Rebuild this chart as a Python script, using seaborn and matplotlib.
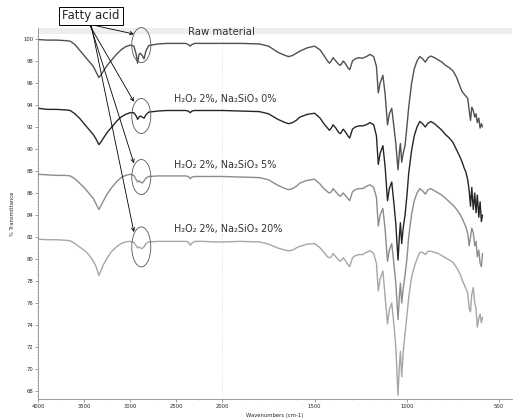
import numpy as np
import pandas as pd
import matplotlib
matplotlib.use("Agg")
import matplotlib.pyplot as plt
from matplotlib.patches import Ellipse
from matplotlib.transforms import IdentityTransform
from matplotlib.ticker import FixedLocator
import seaborn as sns

# wavenumbers (cm-1), compressed part of the axis (4000-2000)
WN_HIGH = [4000, 3900, 3800, 3700, 3650, 3600, 3550, 3500, 3450, 3400,
           3370, 3340, 3320, 3290, 3250, 3200, 3150, 3100, 3050, 3000,
           2960, 2935, 2920, 2905, 2890, 2870, 2850, 2830, 2800, 2700,
           2600, 2500, 2400, 2370, 2350, 2330, 2300, 2200, 2100, 2000]
# fingerprint part (below 2000)
WN_LOW = [1900, 1800, 1750, 1700, 1660, 1640, 1620, 1600, 1580, 1540,
          1500, 1470, 1450, 1430, 1420, 1410, 1400, 1385, 1370, 1360,
          1345, 1335, 1320, 1310, 1295, 1280, 1260, 1240, 1220, 1200,
          1180, 1165, 1155, 1145, 1130, 1118, 1105, 1095, 1082, 1070,
          1060, 1048, 1040, 1035, 1028, 1020, 1010, 1000, 990, 975,
          960, 945, 930, 915, 900, 885, 870, 850, 830, 810,
          790, 770, 750, 730, 710, 700, 690, 680, 670, 662,
          655, 648, 640, 632, 625, 618, 610, 603, 596, 590]

RAW_HIGH = [99.95, 99.9, 99.9, 99.85, 99.8, 99.5, 99.0, 98.5, 98.0, 97.5,
            97.0, 96.5, 96.7, 97.1, 97.6, 98.1, 98.6, 99.0, 99.3, 99.45,
            99.35, 98.6, 97.8, 98.6, 98.7, 98.5, 98.2, 98.9, 99.4, 99.55,
            99.6, 99.6, 99.6, 99.5, 99.35, 99.5, 99.6, 99.6, 99.6, 99.6]
RAW_LOW = [99.6, 99.55, 99.35, 98.8, 98.5, 98.4, 98.5, 98.7, 98.9, 99.2,
           99.35, 99.0, 98.5, 98.0, 97.8, 98.0, 98.3, 98.0, 97.7, 97.6,
           98.0, 97.8, 97.4, 97.2, 98.0, 98.2, 98.3, 98.25, 98.4, 98.6,
           98.4, 97.5, 95.1, 96.0, 96.7, 95.0, 92.2, 93.2, 93.7, 92.0,
           90.5, 88.1, 89.8, 90.5, 88.8, 89.6, 90.3, 92.0, 93.8, 95.9,
           97.3, 98.0, 98.4, 98.2, 97.9, 98.3, 98.45, 98.3, 98.1, 97.9,
           97.6, 97.4, 97.1, 96.5, 95.6, 95.2, 95.0, 94.8, 94.6, 93.5,
           92.6, 93.8, 93.5, 92.9, 93.2, 92.4, 92.8, 91.9, 92.3, 92.0]

NA0_HIGH = [93.7, 93.6, 93.6, 93.55, 93.5, 93.2, 92.8, 92.3, 91.8, 91.3,
            90.9, 90.4, 90.6, 91.0, 91.5, 92.0, 92.5, 92.9, 93.15, 93.3,
            93.3, 93.0, 92.7, 92.9, 93.0, 92.9, 92.8, 93.1, 93.35, 93.45,
            93.5, 93.5, 93.5, 93.45, 93.3, 93.45, 93.5, 93.5, 93.5, 93.5]
NA0_LOW = [93.45, 93.4, 93.2, 92.7, 92.4, 92.3, 92.4, 92.6, 92.9, 93.15,
           93.25, 92.8, 92.3, 91.9, 91.7, 91.9, 92.2, 91.9, 91.5, 91.4,
           91.8, 91.6, 91.2, 91.0, 91.8, 92.0, 92.1, 92.1, 92.2, 92.4,
           92.2, 91.2, 88.6, 89.6, 90.3, 88.4, 85.3, 86.4, 87.0, 85.0,
           83.2, 79.9, 82.2, 83.3, 81.4, 82.8, 84.0, 85.7, 87.8, 89.8,
           91.2, 92.0, 92.5, 92.3, 92.0, 92.35, 92.5, 92.3, 92.0, 91.7,
           91.3, 91.0, 90.6, 89.9, 89.2, 88.8, 88.3, 87.9, 87.2, 86.2,
           84.8, 86.5, 84.5, 86.0, 84.2, 85.8, 83.8, 85.2, 83.4, 84.0]

NA5_HIGH = [87.7, 87.65, 87.6, 87.6, 87.55, 87.3, 86.9, 86.5, 86.0, 85.5,
            85.0, 84.5, 84.8, 85.3, 85.9, 86.5, 87.0, 87.4, 87.6, 87.7,
            87.6, 87.2, 87.0, 87.1, 87.0, 86.9, 87.1, 87.35, 87.5, 87.55,
            87.55, 87.55, 87.55, 87.5, 87.3, 87.45, 87.5, 87.5, 87.5, 87.5]
NA5_LOW = [87.45, 87.4, 87.2, 86.7, 86.4, 86.3, 86.4, 86.6, 86.9, 87.15,
           87.25, 86.8, 86.4, 86.1, 86.0, 86.1, 86.4, 86.1, 85.8, 85.7,
           86.0, 85.8, 85.5, 85.3, 86.1, 86.3, 86.4, 86.4, 86.6, 86.75,
           86.5, 85.6, 83.0, 84.0, 84.6, 82.7, 79.8, 80.8, 81.4, 79.5,
           77.8, 74.5, 76.8, 77.8, 76.0, 77.3, 78.5, 80.0, 82.0, 84.0,
           85.3, 86.0, 86.4, 86.2, 85.9, 86.3, 86.4, 86.2, 86.0, 85.8,
           85.5, 85.2, 84.9, 84.5, 84.0, 83.7, 83.3, 82.9, 82.3, 81.2,
           82.0, 82.8, 82.4, 81.2, 81.6, 80.2, 80.8, 79.6, 79.3, 80.5]

NA20_HIGH = [81.8, 81.75, 81.75, 81.7, 81.65, 81.4, 81.1, 80.8, 80.4, 79.8,
             79.3, 78.5, 78.9, 79.5, 80.1, 80.7, 81.1, 81.4, 81.55, 81.6,
             81.5, 81.2, 81.0, 81.1, 81.0, 80.95, 81.1, 81.4, 81.55, 81.6,
             81.6, 81.6, 81.6, 81.55, 81.25, 81.45, 81.6, 81.6, 81.55, 81.55]
NA20_LOW = [81.6, 81.55, 81.35, 81.0, 80.8, 80.75, 80.8, 81.0, 81.15, 81.35,
            81.4, 81.0, 80.6, 80.2, 80.1, 80.2, 80.5, 80.2, 79.9, 79.8,
            80.1, 79.9, 79.5, 79.3, 80.1, 80.3, 80.4, 80.4, 80.6, 80.75,
            80.5, 79.6, 77.1, 78.2, 78.9, 76.6, 74.1, 75.4, 76.0, 74.0,
            72.0, 67.6, 70.5, 71.6, 69.3, 71.5, 73.2, 74.8, 76.5, 78.3,
            79.3, 80.0, 80.6, 80.6, 80.4, 80.7, 80.7, 80.6, 80.5, 80.3,
            80.1, 79.9, 79.7, 79.2, 78.6, 78.1, 77.7, 77.3, 76.9, 75.5,
            75.2, 76.8, 77.4, 76.0, 75.5, 73.8, 74.6, 75.0, 74.2, 74.7]

SAMPLES = ["Raw material", "H₂O₂ 2%, Na₂SiO₃ 0%",
           "H₂O₂ 2%, Na₂SiO₃ 5%", "H₂O₂ 2%, Na₂SiO₃ 20%"]
COLORS = ["#505050", "#262626", "#8c8c8c", "#a6a6a6"]
SERIES = [RAW_HIGH + RAW_LOW, NA0_HIGH + NA0_LOW,
          NA5_HIGH + NA5_LOW, NA20_HIGH + NA20_LOW]
# where the fatty-acid circles sit (transmittance at ~2880 cm-1)
CIRCLE_T = [99.45, 93.0, 87.45, 81.1]
ARROW_T = [100.45, 94.3, 88.7, 82.45]
LABEL_T = [100.6, 94.55, 88.55, 82.7]

wn = WN_HIGH + WN_LOW
df = pd.concat([pd.DataFrame({"wavenumber": wn, "transmittance": vals, "sample": name})
                for name, vals in zip(SAMPLES, SERIES)], ignore_index=True)

sns.set_theme(style="ticks")
plt.rcParams["font.family"] = ["DejaVu Sans"]

fig = plt.figure(figsize=(5.15, 4.18), dpi=100)
ax = fig.add_axes([38 / 515, 19 / 418, 474 / 515, 371 / 418])


# FTIR style axis: 4000-2000 squeezed to half the scale of 2000-400
def fwd(w):
    w = np.asarray(w, dtype=float)
    return np.where(w > 2000, 2000 + (w - 2000) / 2.0, w)


def inv(u):
    u = np.asarray(u, dtype=float)
    return np.where(u > 2000, 2000 + (u - 2000) * 2.0, u)


ax.set_xscale("function", functions=(fwd, inv))

sns.lineplot(data=df, x="wavenumber", y="transmittance", hue="sample",
             palette=dict(zip(SAMPLES, COLORS)), estimator=None, sort=False,
             legend=False, linewidth=1.0, ax=ax)

ax.set_xlim(4000, 430)
ax.set_ylim(67.27, 101.0)
ax.axhspan(100.45, 101.0, color="#eeeeee", lw=0, zorder=0)
ax.axvline(2000, color="#d0d0d0", lw=0.6, ls=(0, (1, 2)), zorder=0)

ax.set_xticks([4000, 3500, 3000, 2500, 2000, 1500, 1000, 500])
ax.set_xticklabels(["4000", "3500", "3000", "2500", "2000", "1500", "1000", "500"])
ax.xaxis.set_minor_locator(FixedLocator([3750, 3250, 2750, 2250] + list(range(1900, 400, -100))))
ax.set_yticks(list(range(68, 101, 2)))
ax.yaxis.set_minor_locator(FixedLocator(list(np.arange(67.5, 100.5, 0.25))))
ax.tick_params(which="major", labelsize=3.8, length=2, width=0.5, color="#777777", pad=1.5)
ax.tick_params(which="minor", length=1, width=0.4, color="#999999")
for s in ["top", "right"]:
    ax.spines[s].set_visible(False)
for s in ["left", "bottom"]:
    ax.spines[s].set_color("#8c8c8c")
    ax.spines[s].set_linewidth(0.6)
ax.set_xlabel("Wavenumbers (cm-1)", fontsize=3.8, labelpad=3)
ax.set_ylabel("% Transmittance", fontsize=3.8, labelpad=6)

# sample labels
for name, t in zip(SAMPLES, LABEL_T):
    x0 = 2375 if name == "Raw material" else 2520
    size = 7.3 if name == "Raw material" else 6.9
    ax.text(x0, t, name, fontsize=size, color="#333333", va="center", ha="left")

# circles around the C-H stretch bands and arrows from the label box
fig.canvas.draw()
for t in CIRCLE_T:
    cx, cy = ax.transData.transform((2880, t))
    h = 40 if t < 82 else 35
    fig.add_artist(Ellipse((cx, cy), 19, h, transform=IdentityTransform(),
                           fill=False, edgecolor="#555555", lw=0.6))

fig.text(91 / 515, 1 - 16 / 418, "Fatty acid", fontsize=8.5, ha="center", va="center",
         bbox=dict(boxstyle="square,pad=0.25", fc="white", ec="black", lw=0.7))
tails = [(88, 24), (89, 24), (90, 24), (91, 24)]
for (tx, ty), t in zip(tails, ARROW_T):
    ax.annotate("", xy=(2960, t), xycoords="data",
                xytext=(tx, 418 - ty), textcoords="figure pixels",
                arrowprops=dict(arrowstyle="->", lw=0.6, color="black",
                                shrinkA=0, shrinkB=0, mutation_scale=6),
                annotation_clip=False)

fig.savefig("out.png", dpi=100, facecolor="white")
